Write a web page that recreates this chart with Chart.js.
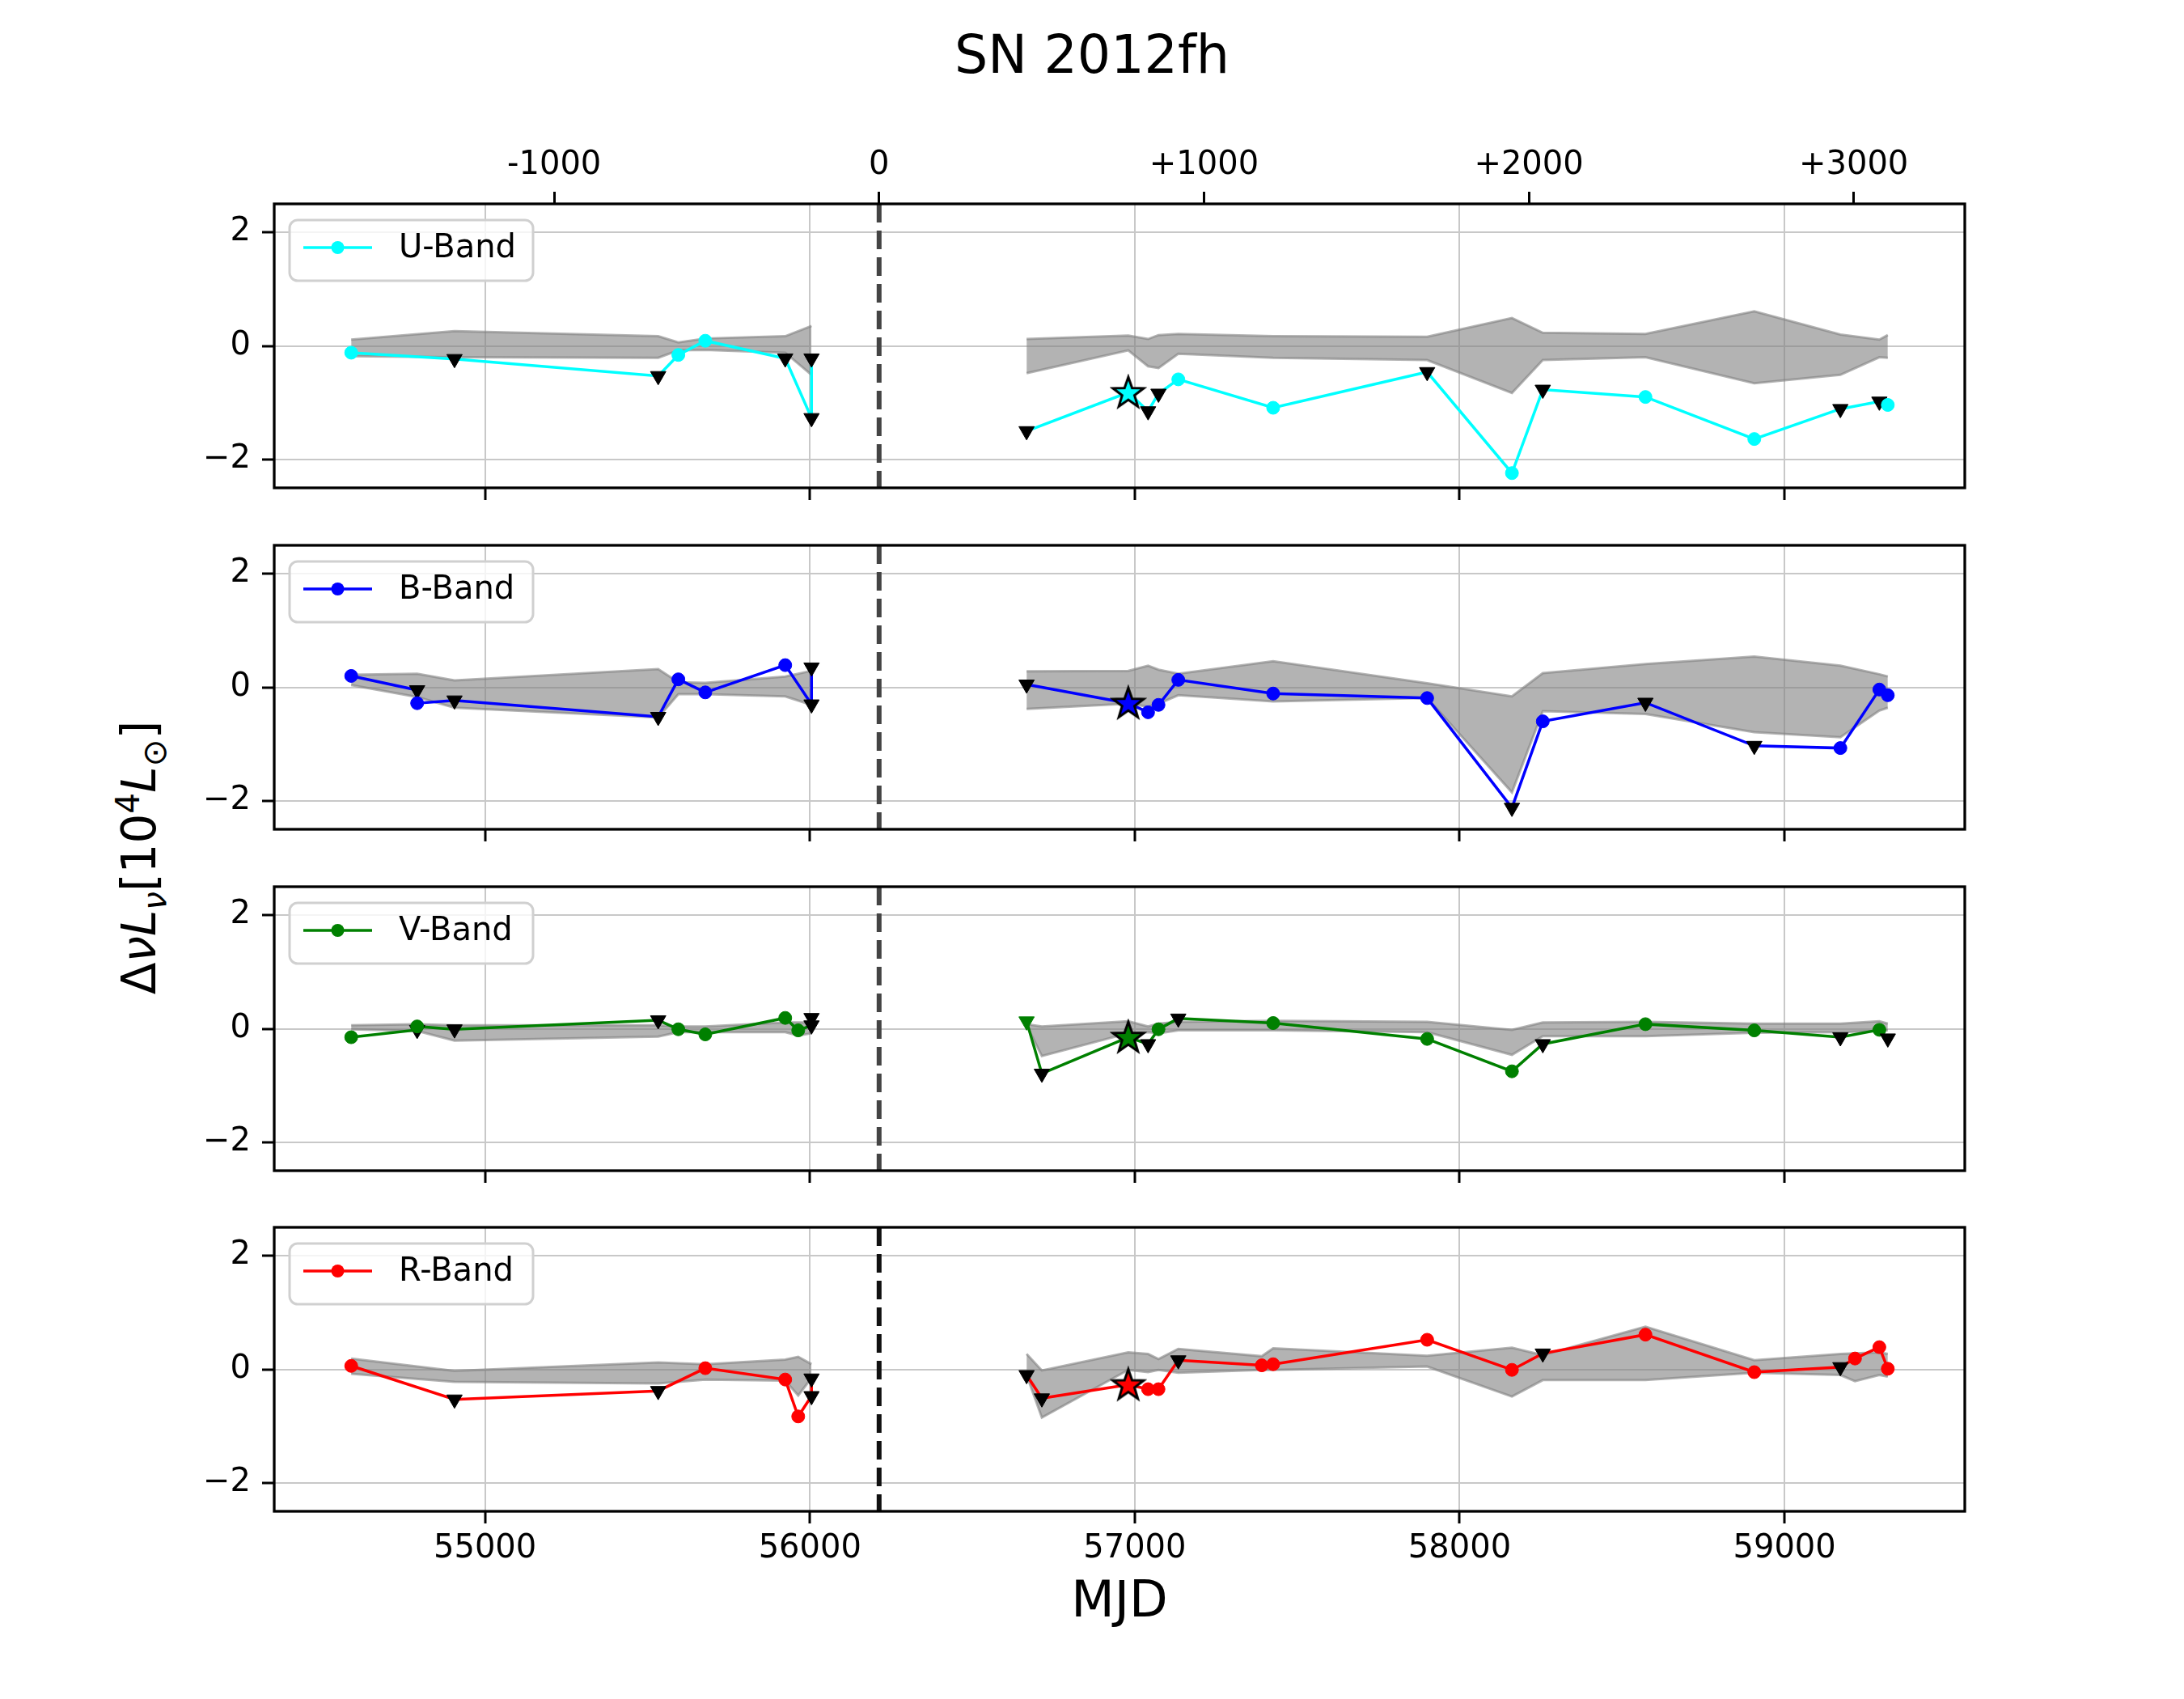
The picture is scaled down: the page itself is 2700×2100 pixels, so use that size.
<!DOCTYPE html>
<html>
<head>
<meta charset="utf-8">
<script src="https://cdn.jsdelivr.net/npm/chart.js@4.4.1/dist/chart.umd.min.js"></script>
<style>
body{margin:0;background:#fff;}
#fig{position:relative;width:2700px;height:2100px;overflow:hidden;font-family:"DejaVu Sans";color:#000;}
#fig canvas{position:absolute;left:0;}
#title{position:absolute;left:0;top:35px;width:2700px;text-align:center;font-size:65px;line-height:65px;}
#ylab{position:absolute;left:172px;top:1060px;transform:translate(-50%,-50%) rotate(-90deg);white-space:nowrap;font-size:58px;line-height:58px;}
#ylab sub,#ylab sup{font-size:70%;line-height:0;}
</style>
</head>
<body>
<div id="fig">
<div id="title">SN 2012fh</div>
<div id="ylab">Δ<i>νL</i><sub><i>ν</i></sub>[10<sup>4</sup><i>L</i><sub>⊙</sub>]</div>
<canvas id="pU"></canvas>
<canvas id="pB"></canvas>
<canvas id="pV"></canvas>
<canvas id="pR"></canvas>
</div>
<script>

// ================= DATA =================

const explosionMjd = 56213;
const xTicks = [55000, 56000, 57000, 58000, 59000];
const topTicks = [-1000, 0, 1000, 2000, 3000];
const yTicks = [-2, 0, 2];

// o = detection, v = upper limit, c = coloured limit, * = peak
const uMjd  = [54588,54906,55533,55595,55678,55924,56005,56005,56667,56980,57041,57073,57134,57426,57900,58161,58256,58572,58907,59172,59292,59318];
const uVal  = [-0.12,-0.23,-0.53,-0.16,0.09,-0.22,-1.27,-0.22,-1.50,-0.82,-1.15,-0.84,-0.59,-1.09,-0.46,-2.24,-0.77,-0.90,-1.64,-1.11,-0.98,-1.04];
const uMark = ["o","v","v","o","o","v","v","v","v","*","v","v","o","o","v","o","v","o","o","v","v","o"];
const uHi   = [0.11,0.26,0.17,0.06,0.13,0.17,0.35,0.35,0.12,0.18,0.12,0.19,0.21,0.17,0.16,0.49,0.23,0.21,0.61,0.20,0.11,0.19];
const uLo   = [-0.18,-0.20,-0.21,-0.08,-0.07,-0.12,-0.51,-0.51,-0.48,-0.08,-0.36,-0.39,-0.14,-0.21,-0.25,-0.83,-0.25,-0.20,-0.66,-0.51,-0.20,-0.21];

const bMjd  = [54588,54791,54791,54906,55533,55595,55678,55924,56005,56005,56667,56980,57041,57073,57134,57426,57900,58161,58256,58572,58907,59172,59292,59318];
const bVal  = [0.20,-0.05,-0.28,-0.23,-0.52,0.14,-0.09,0.39,-0.30,0.35,0.05,-0.28,-0.44,-0.31,0.13,-0.11,-0.19,-2.12,-0.60,-0.27,-1.03,-1.07,-0.04,-0.14];
const bMark = ["o","v","o","v","v","o","o","o","v","v","v","*","o","o","o","o","o","v","o","v","v","o","o","o"];
const bHi   = [0.22,0.24,0.24,0.12,0.32,0.09,0.08,0.19,0.29,0.29,0.28,0.29,0.38,0.31,0.24,0.46,0.07,-0.16,0.25,0.41,0.54,0.38,0.23,0.19];
const bLo   = [0.04,-0.17,-0.17,-0.36,-0.53,-0.12,-0.12,-0.16,-0.31,-0.31,-0.38,-0.29,-0.34,-0.29,-0.14,-0.25,-0.19,-1.85,-0.42,-0.47,-0.79,-0.88,-0.41,-0.36];

const vMjd  = [54588,54791,54791,54906,55533,55595,55678,55924,55964,56005,56005,56667,56714,56980,57041,57073,57134,57426,57900,58161,58256,58572,58907,59172,59292,59318];
const vVal  = [-0.15,-0.02,0.04,-0.01,0.15,-0.01,-0.10,0.19,-0.03,0.06,0.19,0.13,-0.79,-0.15,-0.27,-0.01,0.18,0.10,-0.18,-0.75,-0.27,0.08,-0.03,-0.15,-0.02,-0.17];
const vMark = ["o","v","o","v","v","o","o","o","o","v","v","c","v","*","v","o","v","o","o","o","v","o","o","v","o","v"];
const vHi   = [0.06,0.08,0.08,0.06,0.06,0.04,0.04,0.11,0.11,0.11,0.11,0.08,0.04,0.13,0.04,0.09,0.12,0.14,0.12,-0.02,0.11,0.12,0.09,0.09,0.13,0.09];
const vLo   = [-0.01,-0.04,-0.04,-0.21,-0.14,-0.06,-0.06,-0.06,-0.12,-0.08,-0.08,0.06,-0.48,-0.08,-0.06,-0.08,-0.03,-0.03,-0.06,-0.46,-0.13,-0.13,-0.07,-0.06,-0.04,-0.03];

const rMjd  = [54588,54906,55533,55678,55924,55964,56005,56005,56667,56714,56980,57041,57073,57134,57391,57426,57900,58161,58256,58572,58907,59172,59217,59292,59318];
const rVal  = [0.06,-0.53,-0.38,0.02,-0.18,-0.83,-0.47,-0.16,-0.10,-0.51,-0.27,-0.35,-0.35,0.16,0.07,0.09,0.52,-0.01,0.28,0.61,-0.05,0.04,0.19,0.39,0.01];
const rMark = ["o","v","v","o","o","o","v","v","v","v","*","o","o","v","o","o","o","o","v","o","o","v","o","o","o"];
const rHi   = [0.19,-0.03,0.12,0.09,0.17,0.22,0.09,0.09,0.27,-0.02,0.30,0.27,0.18,0.36,0.23,0.37,0.24,0.38,0.25,0.75,0.16,0.27,0.28,0.30,0.27];
const rLo   = [-0.08,-0.22,-0.25,-0.18,-0.20,-0.46,-0.15,-0.15,-0.10,-0.85,-0.01,-0.05,-0.01,-0.06,-0.01,-0.01,0.05,-0.48,-0.19,-0.19,-0.06,-0.10,-0.21,-0.10,-0.13];

// ================= LAYOUT =================

const X_MIN = 54351, X_MAX = 59555;
const Y_MIN = -2.5, Y_MAX = 2.5;
const PANEL_TOP = [252, 674, 1095.5, 1517];
const AREA_H = 351;
const AREA_LEFT = 339, AREA_RIGHT = 2429;
const PAD_T = 110;
const BOT_H = [40, 40, 40, 151];

const panels = [
  {id:"pU", label:"U-Band", color:"#00ffff", mjd:uMjd, val:uVal, mark:uMark, hi:uHi, lo:uLo, dash:"#444444"},
  {id:"pB", label:"B-Band", color:"#0000ff", mjd:bMjd, val:bVal, mark:bMark, hi:bHi, lo:bLo, dash:"#444444"},
  {id:"pV", label:"V-Band", color:"#008000", mjd:vMjd, val:vVal, mark:vMark, hi:vHi, lo:vLo, dash:"#444444"},
  {id:"pR", label:"R-Band", color:"#ff0000", mjd:rMjd, val:rVal, mark:rMark, hi:rHi, lo:rLo, dash:"#111111"}
];

Chart.defaults.font.family = "DejaVu Sans";
Chart.defaults.color = "#000";

// ================= MARKERS =================

function starImage(fill){
  const c = document.createElement("canvas");
  c.width = 46; c.height = 46;
  const g = c.getContext("2d");
  g.beginPath();
  for(let k=0;k<10;k++){
    const r = k%2===0 ? 20 : 8;
    const a = -Math.PI/2 + k*Math.PI/5;
    const px = 23 + r*Math.cos(a), py = 24 + r*Math.sin(a);
    if(k===0) g.moveTo(px,py); else g.lineTo(px,py);
  }
  g.closePath();
  g.fillStyle = fill;
  g.fill();
  g.lineWidth = 3;
  g.strokeStyle = "#000";
  g.stroke();
  return c;
}

// ================= PLUGIN =================

const framePlugin = {
  id:"frame",
  afterDatasetsDraw(chart, args, opts){
    const ctx = chart.ctx, a = chart.chartArea;
    const px = chart.scales.x.getPixelForValue(explosionMjd);
    ctx.save();
    ctx.strokeStyle = opts.dash;
    ctx.lineWidth = 6;
    ctx.setLineDash([23,10]);
    ctx.beginPath();
    ctx.moveTo(px, a.top);
    ctx.lineTo(px, a.bottom);
    ctx.stroke();
    ctx.restore();

    // legend box
    const lx = a.left + 19, ly = a.top + 20, lw = 301, lh = 75;
    ctx.save();
    ctx.beginPath();
    ctx.roundRect(lx, ly, lw, lh, 10);
    ctx.fillStyle = "rgba(255,255,255,0.8)";
    ctx.fill();
    ctx.lineWidth = 3;
    ctx.strokeStyle = "#d0d0d0";
    ctx.stroke();
    ctx.strokeStyle = opts.color;
    ctx.lineWidth = 3.5;
    ctx.beginPath();
    ctx.moveTo(lx+17, ly+34);
    ctx.lineTo(lx+102, ly+34);
    ctx.stroke();
    ctx.fillStyle = opts.color;
    ctx.beginPath();
    ctx.arc(lx+59.5, ly+34, 8, 0, Math.PI*2);
    ctx.fill();
    ctx.fillStyle = "#000";
    ctx.font = "40px 'DejaVu Sans'";
    ctx.textBaseline = "middle";
    ctx.fillText(opts.label, lx+135, ly+36);
    ctx.restore();
  },
  afterDraw(chart){
    const ctx = chart.ctx, a = chart.chartArea;
    ctx.save();
    ctx.strokeStyle = "#000";
    ctx.lineWidth = 3.3;
    ctx.strokeRect(a.left, a.top, a.right-a.left, a.bottom-a.top);
    ctx.restore();
  }
};

// ================= CHARTS =================

const gridOpts = {color:"#c8c8c8", lineWidth:2, tickColor:"#000", tickWidth:3, tickLength:15};

panels.forEach((p, i) => {

  const canvas = document.getElementById(p.id);
  const h = PAD_T + AREA_H + BOT_H[i];
  canvas.width = 2700;
  canvas.height = h;
  canvas.style.top = (PANEL_TOP[i] - PAD_T) + "px";

  const star = starImage(p.color);
  const datasets = [];

  [m => m < explosionMjd, m => m > explosionMjd].forEach(side => {

    const idx = p.mjd.map((m,k)=>k).filter(k => side(p.mjd[k]));

    datasets.push({
      data: idx.map(k => ({x:p.mjd[k], y:p.hi[k]})),
      borderColor:"rgba(128,128,128,0.6)",
      backgroundColor:"rgba(128,128,128,0.6)",
      borderWidth:3, pointRadius:0, fill:"+1", order:3
    });
    datasets.push({
      data: idx.map(k => ({x:p.mjd[k], y:p.lo[k]})),
      borderColor:"rgba(128,128,128,0.6)",
      borderWidth:3, pointRadius:0, fill:false, order:3
    });

    const marks = idx.map(k => p.mark[k]);
    datasets.push({
      data: idx.map(k => ({x:p.mjd[k], y:p.val[k]})),
      borderColor:p.color,
      borderWidth:3.5,
      fill:false,
      order:1,
      pointStyle: marks.map(m => m==="*" ? star : (m==="o" ? "circle" : "triangle")),
      pointRadius: marks.map(m => m==="*" ? 20 : (m==="o" ? 8 : 11)),
      pointRotation: marks.map(m => (m==="v" || m==="c") ? 180 : 0),
      pointBackgroundColor: marks.map(m => m==="v" ? "#000" : p.color),
      pointBorderColor: marks.map(m => m==="v" ? "#000" : p.color),
      pointBorderWidth:1
    });

  });

  const scales = {
    x:{
      type:"linear", position:"bottom", min:X_MIN, max:X_MAX,
      afterBuildTicks: s => { s.ticks = xTicks.map(v => ({value:v})); },
      afterFit: s => { s.height = BOT_H[i]; },
      grid:gridOpts,
      border:{display:false},
      ticks:{display: i===3, font:{size:40}, padding:8, callback: v => String(v)},
      title:{display: i===3, text:"MJD", font:{size:62}, padding:0}
    },
    y:{
      min:Y_MIN, max:Y_MAX,
      afterBuildTicks: s => { s.ticks = yTicks.map(v => ({value:v})); },
      afterFit: s => { s.width = AREA_LEFT; },
      grid:gridOpts,
      border:{display:false},
      ticks:{font:{size:40}, padding:14, callback: v => String(v).replace("-", "\u2212")}
    }
  };

  if(i===0){
    scales.x2 = {
      type:"linear", position:"top",
      min:X_MIN - explosionMjd, max:X_MAX - explosionMjd,
      afterBuildTicks: s => { s.ticks = topTicks.map(v => ({value:v})); },
      afterFit: s => { s.height = PAD_T; },
      grid:{drawOnChartArea:false, tickColor:"#000", tickWidth:3, tickLength:15},
      border:{display:false},
      ticks:{font:{size:40}, padding:8, callback: v => v>0 ? "+"+v : String(v)}
    };
  }

  new Chart(canvas, {
    type:"line",
    data:{datasets},
    options:{
      responsive:false,
      devicePixelRatio:1,
      animation:false,
      events:[],
      layout:{padding:{left:0, right:2700-AREA_RIGHT, top: i===0 ? 0 : PAD_T, bottom:0}},
      scales,
      plugins:{
        legend:{display:false},
        tooltip:{enabled:false},
        frame:{dash:p.dash, color:p.color, label:p.label}
      }
    },
    plugins:[framePlugin]
  });

});

</script>
</body>
</html>
